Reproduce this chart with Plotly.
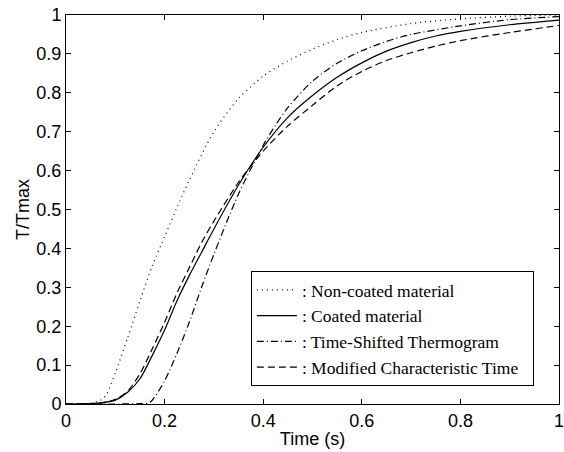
import plotly.graph_objects as go

# Normalised thermograms: T/Tmax versus time (s)
t_noncoated = [0, 0.05, 0.07, 0.08, 0.1, 0.125, 0.15, 0.175, 0.2, 0.225, 0.25, 0.3, 0.35, 0.4, 0.45, 0.5, 0.55, 0.6, 0.7, 0.8, 0.9, 1.0]
v_noncoated = [0, 0.002, 0.01, 0.02, 0.08, 0.17, 0.265, 0.355, 0.43, 0.505, 0.575, 0.70, 0.785, 0.843, 0.882, 0.912, 0.937, 0.955, 0.978, 0.99, 0.997, 1.0]

t_coated = [0, 0.05, 0.07, 0.1, 0.125, 0.15, 0.175, 0.2, 0.225, 0.25, 0.275, 0.3, 0.35, 0.4, 0.45, 0.5, 0.55, 0.6, 0.65, 0.7, 0.75, 0.8, 0.9, 1.0]
v_coated = [0, 0.001, 0.003, 0.01, 0.03, 0.065, 0.125, 0.19, 0.265, 0.33, 0.39, 0.45, 0.563, 0.66, 0.737, 0.793, 0.84, 0.877, 0.907, 0.929, 0.946, 0.958, 0.975, 0.987]

t_shifted = [0, 0.1, 0.15, 0.17, 0.2, 0.225, 0.25, 0.275, 0.3, 0.325, 0.35, 0.375, 0.4, 0.425, 0.45, 0.5, 0.55, 0.6, 0.65, 0.7, 0.8, 0.9, 1.0]
v_shifted = [0, 0, 0.001, 0.004, 0.06, 0.13, 0.21, 0.30, 0.385, 0.465, 0.54, 0.605, 0.665, 0.717, 0.762, 0.83, 0.876, 0.908, 0.932, 0.95, 0.972, 0.988, 0.996]

t_modified = [0, 0.05, 0.08, 0.1, 0.125, 0.15, 0.175, 0.2, 0.225, 0.25, 0.275, 0.3, 0.35, 0.4, 0.45, 0.5, 0.55, 0.6, 0.65, 0.7, 0.75, 0.8, 0.9, 1.0]
v_modified = [0, 0.001, 0.004, 0.012, 0.033, 0.078, 0.142, 0.21, 0.285, 0.35, 0.415, 0.47, 0.57, 0.65, 0.715, 0.768, 0.818, 0.855, 0.883, 0.903, 0.92, 0.934, 0.955, 0.973]

series = [
    (": Non-coated material", t_noncoated, v_noncoated, "1px,4px"),
    (": Coated material", t_coated, v_coated, "solid"),
    (": Time-Shifted Thermogram", t_shifted, v_shifted, "7px,3px,1px,3px"),
    (": Modified Characteristic Time\u00a0\u00a0", t_modified, v_modified, "7px,4px"),
]

fig = go.Figure()
for name, t, v, dash in series:
    fig.add_trace(go.Scatter(x=t, y=v, name=name, mode="lines",
                             line=dict(color="black", width=1.2, dash=dash, shape="spline", smoothing=0.8)))

axis_style = dict(showline=True, linecolor="black", linewidth=1, mirror="allticks",
                  ticks="inside", ticklen=5, tickcolor="black", showgrid=False,
                  zeroline=False, automargin=False, ticklabeloverflow="allow",
                  tickfont=dict(size=18, color="black"))

fig.update_xaxes(range=[0, 1], tickvals=[0, 0.2, 0.4, 0.6, 0.8, 1],
                 title=dict(text="Time (s)", font=dict(size=18, color="black"), standoff=2),
                 **axis_style)
fig.update_yaxes(range=[0, 1], tickvals=[i / 10 for i in range(11)],
                 title=dict(text="T/Tmax", font=dict(size=18, color="black"), standoff=2),
                 **axis_style)

fig.update_layout(
    width=564, height=452,
    margin=dict(l=66, r=5, t=15, b=48),
    paper_bgcolor="white", plot_bgcolor="white",
    font=dict(family="Liberation Sans, Arial, sans-serif", color="black"),
    legend=dict(x=0.375, y=0.342, xanchor="left", yanchor="top",
                bgcolor="white", bordercolor="black", borderwidth=1,
                itemwidth=40, tracegroupgap=0,
                font=dict(family="Liberation Serif, Times New Roman, serif", size=17.5, color="black")),
)

# drop the default 8px body margin so the figure fills the window exactly
fig.write_html("out.html", config={"displayModeBar": False},
               post_script="document.body.style.margin='0';")
